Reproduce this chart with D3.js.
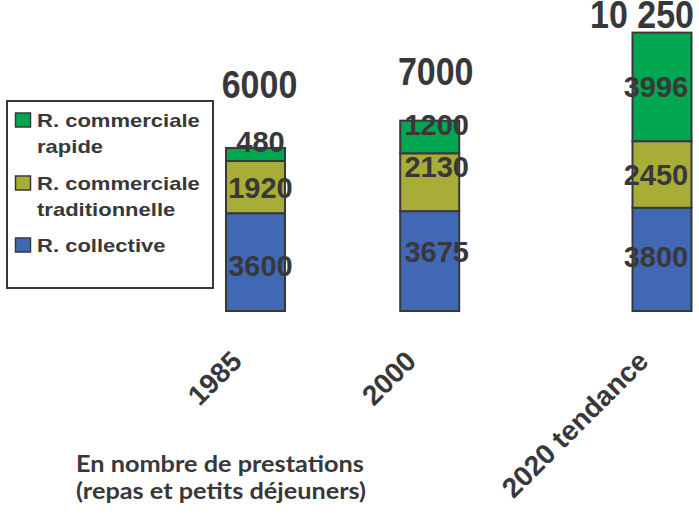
<!DOCTYPE html>
<html lang="fr">
<head>
<meta charset="UTF-8">
<title>Prestations de restauration</title>
<script src="https://d3js.org/d3.v7.min.js"></script>
<style>
  body { margin: 0; background: #fff; }
  svg { display: block; }
</style>
</head>
<body>
<div id="chart"></div>
<script>
// Data
const years = [1985, 2000, 2020];
const categories = ["1985", "2000", "2020 tendance"];
const collective = [3600, 3675, 3800];
const traditionnelle = [1920, 2130, 2450];
const rapide = [480, 1200, 3996];
const totalLabels = ["6000", "7000", "10 250"];
const legendLines = [["R. commerciale", "rapide"], ["R. commerciale", "traditionnelle"], ["R. collective"]];
const noteLines = ["En nombre de prestations", "(repas et petits déjeuners)"];

const colors = ["#4168b4", "#a8ad38", "#00a650"];
const ink = "#38383a";

const width = 699, height = 514;

const svg = d3.select("#chart").append("svg")
    .attr("width", width)
    .attr("height", height);

// Scales: years placed on a linear axis
const x = d3.scaleLinear().domain([1985, 2020]).range([255.5, 662]);
const y = d3.scaleLinear().domain([0, 10250]).range([311, 32.5]);
const barW = 59;

const rows = years.map((yr, i) => ({
    year: yr, collective: collective[i], traditionnelle: traditionnelle[i], rapide: rapide[i]
}));
const stack = d3.stack().keys(["collective", "traditionnelle", "rapide"]);
const series = stack(rows);

// layout nudges for the labels (pixels)
const labelDx = [5, 7, -6];
const valueDy = [[14, 1, 8], [11, -5, 11], [-2, -2, 10]];
const totalLift = [50, 36, 5];
const totalDx = [4, 6, -20];

// bars
const layers = svg.append("g").selectAll("g")
    .data(series)
    .join("g")
    .attr("fill", (d, i) => colors[i]);

layers.selectAll("rect")
    .data(d => d)
    .join("rect")
    .attr("x", d => x(d.data.year) - barW / 2)
    .attr("y", d => y(d[1]))
    .attr("width", barW)
    .attr("height", d => y(d[0]) - y(d[1]))
    .attr("stroke", ink)
    .attr("stroke-width", 2);

// value labels
series.forEach((s, si) => {
    svg.append("g").selectAll("text")
        .data(s)
        .join("text")
        .attr("x", (d, i) => x(d.data.year) + labelDx[i])
        .attr("y", (d, i) => (y(d[0]) + y(d[1])) / 2 + valueDy[si][i])
        .attr("text-anchor", "middle")
        .attr("font-family", "'Liberation Sans', Arial, sans-serif")
        .attr("font-weight", "bold")
        .attr("font-size", 29)
        .attr("fill", ink)
        .text(d => d[1] - d[0]);
});

// totals
const tops = series[series.length - 1];
svg.append("g").selectAll("text")
    .data(tops)
    .join("text")
    .attr("transform", (d, i) => `translate(${x(d.data.year) + totalDx[i]},${y(d[1]) - totalLift[i]}) scale(1,1.15)`)
    .attr("text-anchor", "middle")
    .attr("font-family", "'Liberation Sans', Arial, sans-serif")
    .attr("font-weight", "bold")
    .attr("font-size", 34)
    .attr("fill", ink)
    .text((d, i) => totalLabels[i]);

// category labels, rotated
svg.append("g").selectAll("text")
    .data(years)
    .join("text")
    .attr("transform", d => `translate(${x(d) - 12},${y(0) + 52}) rotate(-45)`)
    .attr("text-anchor", "end")
    .attr("font-family", "'Liberation Sans', Arial, sans-serif")
    .attr("font-weight", "bold")
    .attr("font-size", 28)
    .attr("fill", ink)
    .text((d, i) => categories[i]);

// legend
const legend = svg.append("g");
legend.append("rect")
    .attr("x", 7).attr("y", 101)
    .attr("width", 206).attr("height", 187)
    .attr("fill", "#fff")
    .attr("stroke", ink)
    .attr("stroke-width", 2);

const legendOrder = [2, 1, 0];
const legendTop = [127, 190, 252];
legendOrder.forEach((si, k) => {
    const g = legend.append("g");
    g.append("rect")
        .attr("x", 15.5).attr("y", legendTop[k] - 14)
        .attr("width", 15).attr("height", 14)
        .attr("fill", colors[si])
        .attr("stroke", ink)
        .attr("stroke-width", 1.5);
    legendLines[k].forEach((line, li) => {
        g.append("text")
            .attr("transform", `translate(37,${legendTop[k] + li * 26}) scale(1.16,1)`)
            .attr("font-family", "'Liberation Sans', Arial, sans-serif")
            .attr("font-weight", "bold")
            .attr("font-size", 19)
            .attr("fill", ink)
            .text(line);
    });
});

// note
svg.append("g").selectAll("text")
    .data(noteLines)
    .join("text")
    .attr("transform", (d, i) => `translate(76,${472 + i * 27}) scale(1.1,1)`)
    .attr("font-family", "Lato, 'Open Sans', sans-serif")
    .attr("font-weight", "bold")
    .attr("font-size", 23)
    .attr("fill", ink)
    .text(d => d);
</script>
</body>
</html>
